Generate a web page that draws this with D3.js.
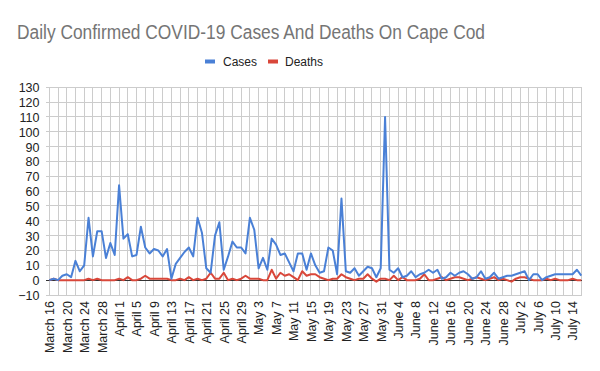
<!DOCTYPE html>
<html>
<head>
<meta charset="utf-8">
<script src="https://cdn.jsdelivr.net/npm/d3@7"></script>
<style>
  html, body { margin: 0; padding: 0; background: #fff; }
  svg { display: block; font-family: "Liberation Sans", Arial, sans-serif; }
</style>
</head>
<body>
<svg id="chart" width="600" height="371"></svg>
<script>
// ---- data ----
const startDate = "2020-03-16";
const cases = [
  0,1,0,3,4,2,13,6,10,42,
  16,33,33,15,25,17,64,28,31,16,
  17,36,22,18,21,20,16,21,1,11,
  15,19,22,16,42,32,8,5,30,39,
  7,16,26,22,22,18,42,34,8,15,
  7,28,24,17,18,12,6,18,18,7,
  18,10,5,6,22,20,4,55,6,5,
  8,3,6,9,8,2,8,110,7,5,
  8,2,3,6,2,4,5,7,5,7,
  1,2,5,3,5,6,4,1,2,6,
  1,2,5,1,2,3,3,4,5,6,
  0,4,4,0,2,3,4,4,4,4,
  4,7,3
];
const deaths = [
  0,1,0,0,0,0,0,0,0,1,
  0,1,0,0,0,0,1,0,2,0,
  0,1,3,1,1,1,1,1,0,0,
  1,0,2,0,1,0,1,5,1,1,
  5,0,1,0,1,3,1,1,1,0,
  0,7,1,5,3,4,2,0,6,3,
  4,4,2,1,0,1,1,4,2,1,
  0,1,1,4,1,-1,1,1,0,3,
  0,2,0,0,0,1,4,0,0,1,
  2,0,1,2,2,1,0,1,2,1,
  0,1,2,0,1,0,-1,1,2,2,
  1,0,0,0,1,0,1,0,0,0,
  1,0,0
];
const seriesNames = ["Cases", "Deaths"];
const seriesColors = ["#4a80d6", "#d9473a"];
const yTicks = [-10,0,10,20,30,40,50,60,70,80,90,100,110,120,130];
const titleText = "Daily Confirmed COVID-19 Cases And Deaths On Cape Cod";

// ---- build dates & labels ----
const monthNames = ["January","February","March","April","May","June","July","August","September","October","November","December"];
const parse = d3.timeParse("%Y-%m-%d");
const d0 = parse(startDate);
const dates = cases.map((_, i) => d3.timeDay.offset(d0, i));
const labelOf = d => monthNames[d.getMonth()] + " " + d.getDate();
const tickIdx = dates.map((_, i) => i).filter(i => i % 4 === 0 && i <= 120);

// ---- layout ----
const svg = d3.select("#chart");
const plotLeft = 46, plotRight = 581.5, plotTop = 87.3, plotBottom = 295;

const x = d3.scalePoint().domain(dates.map((_, i) => i)).range([49.3, 581.3]);
const y = d3.scaleLinear().domain([-10, 130]).range([plotBottom, plotTop]);

// title
svg.append("text")
  .attr("x", 17).attr("y", 38.5)
  .attr("fill", "#757575")
  .attr("font-size", 20)
  .attr("textLength", 468)
  .attr("lengthAdjust", "spacingAndGlyphs")
  .text(titleText);

// legend
const legend = svg.append("g");
const legendItems = [{x: 205, tx: 223}, {x: 268, tx: 285}];
seriesNames.forEach((name, k) => {
  legend.append("rect").attr("x", legendItems[k].x).attr("y", 59.5).attr("width", 10).attr("height", 4).attr("fill", seriesColors[k]);
  legend.append("text").attr("x", legendItems[k].tx).attr("y", 66).attr("font-size", 12).attr("fill", "#222").text(name);
});

// horizontal gridlines
svg.append("g").selectAll("line").data(yTicks).join("line")
  .attr("x1", plotLeft).attr("x2", plotRight)
  .attr("y1", d => y(d)).attr("y2", d => y(d))
  .attr("stroke", "#cccccc").attr("stroke-width", 1).attr("shape-rendering", "crispEdges");

// vertical gridlines every 2 days
const vIdx = dates.map((_, i) => i).filter(i => i % 2 === 0);
svg.append("g").selectAll("line").data(vIdx).join("line")
  .attr("x1", d => x(d)).attr("x2", d => x(d))
  .attr("y1", plotTop).attr("y2", plotBottom)
  .attr("stroke", "#cccccc").attr("stroke-width", 1).attr("shape-rendering", "crispEdges");

// zero baseline
svg.append("line")
  .attr("x1", plotLeft).attr("x2", plotRight)
  .attr("y1", y(0)).attr("y2", y(0))
  .attr("stroke", "#333").attr("stroke-width", 1).attr("shape-rendering", "crispEdges");

// y axis
const yAxis = d3.axisLeft(y).tickValues(yTicks).tickSize(0).tickPadding(0);
const gy = svg.append("g").attr("transform", `translate(39.5,0)`).call(yAxis);
gy.select(".domain").remove();
gy.selectAll("text").attr("font-size", 12.5).attr("fill", "#222").attr("font-family", '"Liberation Sans", Arial, sans-serif').attr("dy", "0.35em");

// x axis labels
const xAxis = d3.axisBottom(x).tickValues(tickIdx).tickFormat(i => labelOf(dates[i])).tickSize(0);
const gx = svg.append("g").attr("transform", `translate(0,${plotBottom})`).call(xAxis);
gx.select(".domain").remove();
gx.selectAll("text")
  .attr("font-size", 12.5).attr("fill", "#222")
  .attr("font-family", '"Liberation Sans", Arial, sans-serif')
  .attr("text-anchor", "end")
  .attr("transform", "rotate(-90)")
  .attr("x", -6).attr("y", 0).attr("dy", "0.35em");

// lines
const line = d3.line().x((d, i) => x(i)).y(d => y(d)).curve(d3.curveLinear);
[[deaths, seriesColors[1]], [cases, seriesColors[0]]].forEach(([s, color]) => {
  svg.append("path").datum(s)
    .attr("d", line)
    .attr("fill", "none")
    .attr("stroke", color)
    .attr("stroke-width", 2)
    .attr("stroke-linejoin", "round");
});
</script>
</body>
</html>
